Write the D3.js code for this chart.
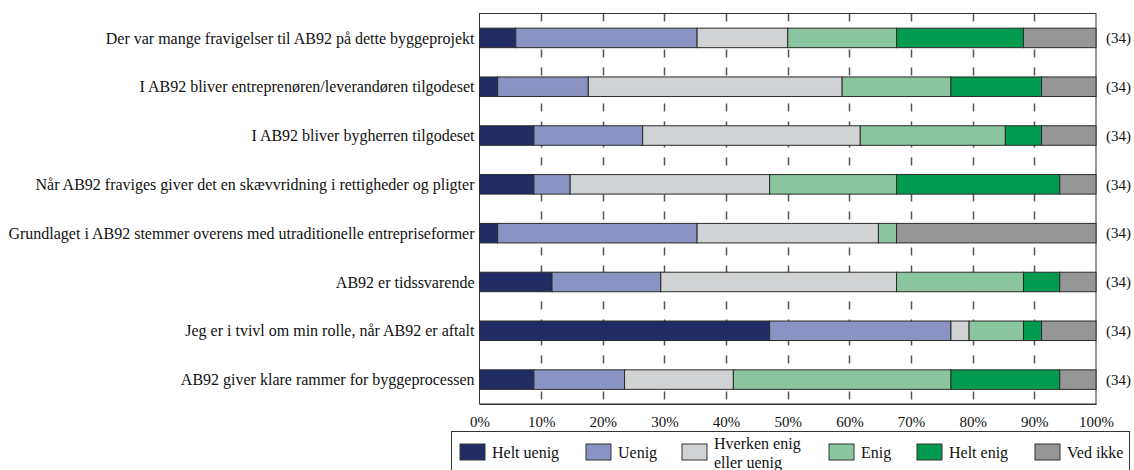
<!DOCTYPE html>
<html>
<head>
<meta charset="utf-8">
<script src="https://cdn.jsdelivr.net/npm/d3@7"></script>
<style>
  html, body { margin: 0; padding: 0; background: #fff; }
  svg, svg text { font-family: "Liberation Serif", "Times New Roman", serif; }
  svg { display: block; }
</style>
</head>
<body>
<svg id="chart" width="1134" height="470"></svg>
<script>
// Statements (top to bottom)
const statements = [
  "Der var mange fravigelser til AB92 på dette byggeprojekt",
  "I AB92 bliver entreprenøren/leverandøren tilgodeset",
  "I AB92 bliver bygherren tilgodeset",
  "Når AB92 fraviges giver det en skævvridning i rettigheder og pligter",
  "Grundlaget i AB92 stemmer overens med utraditionelle entrepriseformer",
  "AB92 er tidssvarende",
  "Jeg er i tvivl om min rolle, når AB92 er aftalt",
  "AB92 giver klare rammer for byggeprocessen"
];

// Answer categories
const answers = ["Helt uenig", "Uenig", "Hverken enig eller uenig", "Enig", "Helt enig", "Ved ikke"];
const answerColors = ["#222c64", "#8a93c1", "#d1d2d4", "#8bc5a0", "#009b4f", "#969696"];

// Number of respondents per answer, one list per statement
const heltUenig = [2, 1, 3, 3, 1, 4, 16, 3];
const uenig     = [10, 5, 6, 2, 11, 6, 10, 5];
const hverken   = [5, 14, 12, 11, 10, 13, 1, 6];
const enig      = [6, 6, 8, 7, 1, 7, 3, 12];
const heltEnig  = [7, 5, 2, 9, 0, 2, 1, 6];
const vedIkke   = [4, 3, 3, 2, 11, 2, 3, 2];
const respondents = [34, 34, 34, 34, 34, 34, 34, 34];

const tickValues = [0, 0.1, 0.2, 0.3, 0.4, 0.5, 0.6, 0.7, 0.8, 0.9, 1];

const counts = [heltUenig, uenig, hverken, enig, heltEnig, vedIkke];

// Build stacked share rows
const rows = statements.map((s, i) => {
  const row = { statement: s, n: respondents[i] };
  answers.forEach((a, k) => { row[a] = counts[k][i] / respondents[i]; });
  return row;
});
const stacked = d3.stack().keys(answers)(rows);

const svg = d3.select("#chart");
const plotLeft = 479.5, plotRight = 1096, plotTop = 13.5, plotBottom = 404;

const x = d3.scaleLinear().domain([0, 1]).range([plotLeft, plotRight]);
const y = d3.scaleBand().domain(statements).range([plotTop, plotBottom]).paddingInner(0.6).paddingOuter(0.3);
const color = d3.scaleOrdinal().domain(answers).range(answerColors);

// Dashed vertical gridlines (behind bars)
svg.append("g").selectAll("line")
  .data(tickValues.filter(v => v > 0 && v < 1))
  .join("line")
  .attr("x1", d => Math.round(x(d)) + 0.5)
  .attr("x2", d => Math.round(x(d)) + 0.5)
  .attr("y1", plotTop)
  .attr("y2", plotBottom)
  .attr("stroke", "#555")
  .attr("stroke-width", 1.5)
  .attr("stroke-dasharray", "8,10");

// Plot frame
svg.append("rect")
  .attr("x", plotLeft).attr("y", plotTop)
  .attr("width", plotRight - plotLeft).attr("height", plotBottom - plotTop)
  .attr("fill", "none").attr("stroke", "#333").attr("stroke-width", 1);

// Stacked bars
svg.append("g").selectAll("g")
  .data(stacked)
  .join("g")
  .attr("fill", d => color(d.key))
  .selectAll("rect")
  .data(d => d.filter(p => p[1] - p[0] > 0))
  .join("rect")
  .attr("x", d => x(d[0]))
  .attr("y", d => y(d.data.statement))
  .attr("width", d => x(d[1]) - x(d[0]))
  .attr("height", y.bandwidth())
  .attr("stroke", "#2a2a2a")
  .attr("stroke-width", 1);

// Statement labels
svg.append("g").selectAll("text")
  .data(statements)
  .join("text")
  .attr("x", plotLeft - 5)
  .attr("y", d => y(d) + y.bandwidth() / 2)
  .attr("dy", "0.35em")
  .attr("text-anchor", "end")
  .attr("font-size", 16)
  .attr("fill", "#111")
  .text(d => d);

// Respondent counts
svg.append("g").selectAll("text")
  .data(rows)
  .join("text")
  .attr("x", plotRight + 10)
  .attr("y", d => y(d.statement) + y.bandwidth() / 2)
  .attr("dy", "0.35em")
  .attr("font-size", 15)
  .attr("fill", "#111")
  .text(d => `(${d.n})`);

// Bottom axis
const axis = d3.axisBottom(x).tickValues(tickValues).tickFormat(d3.format(".0%")).tickSize(0).tickPadding(12);
const ag = svg.append("g").attr("transform", `translate(0,${plotBottom})`).call(axis)
  .attr("font-family", null).attr("font-size", null);
ag.select(".domain").attr("stroke", "#333");
ag.selectAll("text").attr("font-size", 15).attr("fill", "#111");

// Legend
const legend = svg.append("g");
legend.append("rect")
  .attr("x", 451.5).attr("y", 431.5).attr("width", 678).attr("height", 60)
  .attr("fill", "#fff").attr("stroke", "#333");
const legendX = [460, 586, 682, 829, 917, 1035];
const li = legend.selectAll("g").data(answers).join("g")
  .attr("transform", (d, i) => `translate(${legendX[i]},444)`);
li.append("rect")
  .attr("width", 25).attr("height", 16)
  .attr("fill", d => color(d)).attr("stroke", "#333");
li.append("text")
  .attr("x", 32)
  .attr("font-size", 16)
  .attr("fill", "#111")
  .each(function (d) {
    const t = d3.select(this);
    const lines = d === "Hverken enig eller uenig" ? ["Hverken enig", "eller uenig"] : [d];
    if (lines.length === 1) {
      t.append("tspan").attr("x", 32).attr("y", 8).attr("dy", "0.35em").text(lines[0]);
    } else {
      t.append("tspan").attr("x", 32).attr("y", -1).attr("dy", "0.35em").text(lines[0]);
      t.append("tspan").attr("x", 32).attr("y", 18).attr("dy", "0.35em").text(lines[1]);
    }
  });
</script>
</body>
</html>
